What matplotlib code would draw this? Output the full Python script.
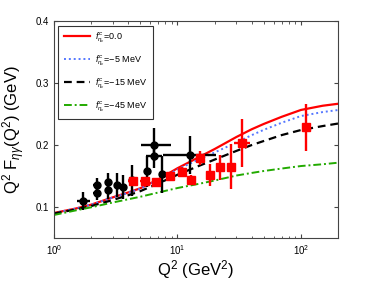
import matplotlib
matplotlib.use("Agg")
import matplotlib.pyplot as plt
from matplotlib.ticker import LogLocator, NullFormatter, FixedLocator

plt.rcParams["font.family"] = ["Liberation Sans", "DejaVu Sans"]
plt.rcParams["mathtext.fontset"] = "custom"
plt.rcParams["mathtext.rm"] = "Liberation Sans"
plt.rcParams["mathtext.it"] = "Liberation Sans:italic"

# theory curves
q2_curve = [1, 1.5, 2, 3, 4, 5, 7, 10, 15, 20, 30, 40, 50, 70, 100, 150, 200]
f_0 = [0.0903, 0.0975, 0.1037, 0.1156, 0.1235, 0.1302, 0.1445, 0.1625, 0.1806,
       0.1935, 0.2129, 0.2255, 0.2340, 0.2456, 0.2566, 0.2634, 0.2666]
f_5 = [0.0903, 0.0975, 0.1037, 0.1153, 0.1230, 0.1296, 0.1432, 0.1605, 0.1770,
       0.1880, 0.2040, 0.2160, 0.2245, 0.2360, 0.2468, 0.2532, 0.2565]
f_15 = [0.0895, 0.0960, 0.1015, 0.1113, 0.1190, 0.1255, 0.1380, 0.1520, 0.1665,
        0.1765, 0.1905, 0.2000, 0.2065, 0.2161, 0.2242, 0.2306, 0.2347]
f_45 = [0.0871, 0.0945, 0.0995, 0.1073, 0.1125, 0.1165, 0.1234, 0.1306, 0.1375,
        0.1427, 0.1508, 0.1550, 0.1581, 0.1621, 0.1661, 0.1690, 0.1715]

# black data (CLEO-like)
q2_b = [1.71, 2.22, 2.22, 2.73, 2.73, 3.22, 3.60, 4.26, 5.68, 6.52, 6.52, 7.57, 12.7]
f_b = [0.110, 0.1355, 0.1226, 0.140, 0.1274, 0.1355, 0.1323, 0.1435,
       0.158, 0.2008, 0.183, 0.153, 0.184]
ef_b = [0.015, 0.012, 0.012, 0.015, 0.015, 0.02, 0.02, 0.025,
        0.025, 0.027, 0.02, 0.03, 0.03]
xlo_b = [0.18, 0.15, 0.15, 0.15, 0.15, 0.15, 0.15, 0.2, 0.3, 1.4, 0.9, 0.3, 5.1]
xhi_b = [0.24, 0.15, 0.15, 0.15, 0.15, 0.15, 0.15, 0.2, 0.3, 2.4, 1.0, 0.3, 7.8]

# red data (BaBar-like)
q2_r = [4.34, 5.42, 6.77, 8.78, 10.97, 12.9, 15.3, 18.4, 22.2, 27.1, 33.6, 110]
f_r = [0.1424, 0.142, 0.141, 0.150, 0.157, 0.1435, 0.179, 0.1516,
       0.164, 0.165, 0.2037, 0.2286]
ef_r = [0.005, 0.005, 0.005, 0.006, 0.007, 0.008, 0.011, 0.017,
        0.02, 0.036, 0.039, 0.038]
ex_r = [0.35, 0.45, 0.55, 0.7, 0.9, 1.0, 1.2, 1.3, 1.5, 1.8, 5.0, 6.0]

labels = [r"$f^{c}_{\eta_c}$=0.0", r"$f^{c}_{\eta_c}$=$-$5 MeV",
          r"$f^{c}_{\eta_c}$=$-$15 MeV", r"$f^{c}_{\eta_c}$=$-$45 MeV"]

fig = plt.figure(figsize=(3.74, 2.81), dpi=100)
ax = fig.add_axes([0.144, 0.153, 0.76, 0.772])

ax.plot(q2_curve, f_0, color="red", lw=1.6, label=labels[0])
ax.plot(q2_curve, f_5, color="#5577ff", lw=1.4, ls=(0, (1, 1.5)), label=labels[1])
ax.plot(q2_curve, f_15, color="black", lw=1.6, ls=(0, (3.5, 2.2)), label=labels[2])
ax.plot(q2_curve, f_45, color="#22aa00", lw=1.4, ls=(0, (4, 1.5, 1, 1.5)), label=labels[3])

ax.errorbar(q2_b, f_b, yerr=ef_b, xerr=[xlo_b, xhi_b], fmt="o", color="black",
            ms=5, lw=1.7, capsize=0, zorder=5)
ax.errorbar(q2_r, f_r, yerr=ef_r, xerr=ex_r, fmt="s", color="red",
            ms=5.5, lw=1.7, capsize=0, zorder=6)

ax.set_xscale("log")
ax.set_xlim(1, 200)
ax.set_ylim(0.05, 0.4)
ax.yaxis.set_major_locator(FixedLocator([0.1, 0.2, 0.3, 0.4]))
ax.xaxis.set_major_locator(LogLocator(base=10, numticks=5))
ax.xaxis.set_minor_locator(LogLocator(base=10, subs=range(2, 10), numticks=20))
ax.xaxis.set_minor_formatter(NullFormatter())
ax.tick_params(which="both", direction="in", top=True, right=True, labelsize=7,
               color="#444444")
ax.tick_params(which="major", length=3)
ax.tick_params(which="minor", length=1.8)
for s in ax.spines.values():
    s.set_color("#444444")
    s.set_linewidth(0.8)

ax.set_xlabel(r"Q$^2$ (GeV$^2$)", fontsize=12, labelpad=1)
ax.set_ylabel(r"Q$^2$ F$_{\eta\gamma}$(Q$^2$) (GeV)", fontsize=12, labelpad=6)

leg = ax.legend(loc="upper left", fontsize=6.5, frameon=True, fancybox=False,
                edgecolor="black", handlelength=2.9, handletextpad=0.6,
                borderaxespad=0.5, labelspacing=0.95, borderpad=0.6)
leg.get_frame().set_linewidth(0.8)

fig.savefig("out.png", dpi=100)
